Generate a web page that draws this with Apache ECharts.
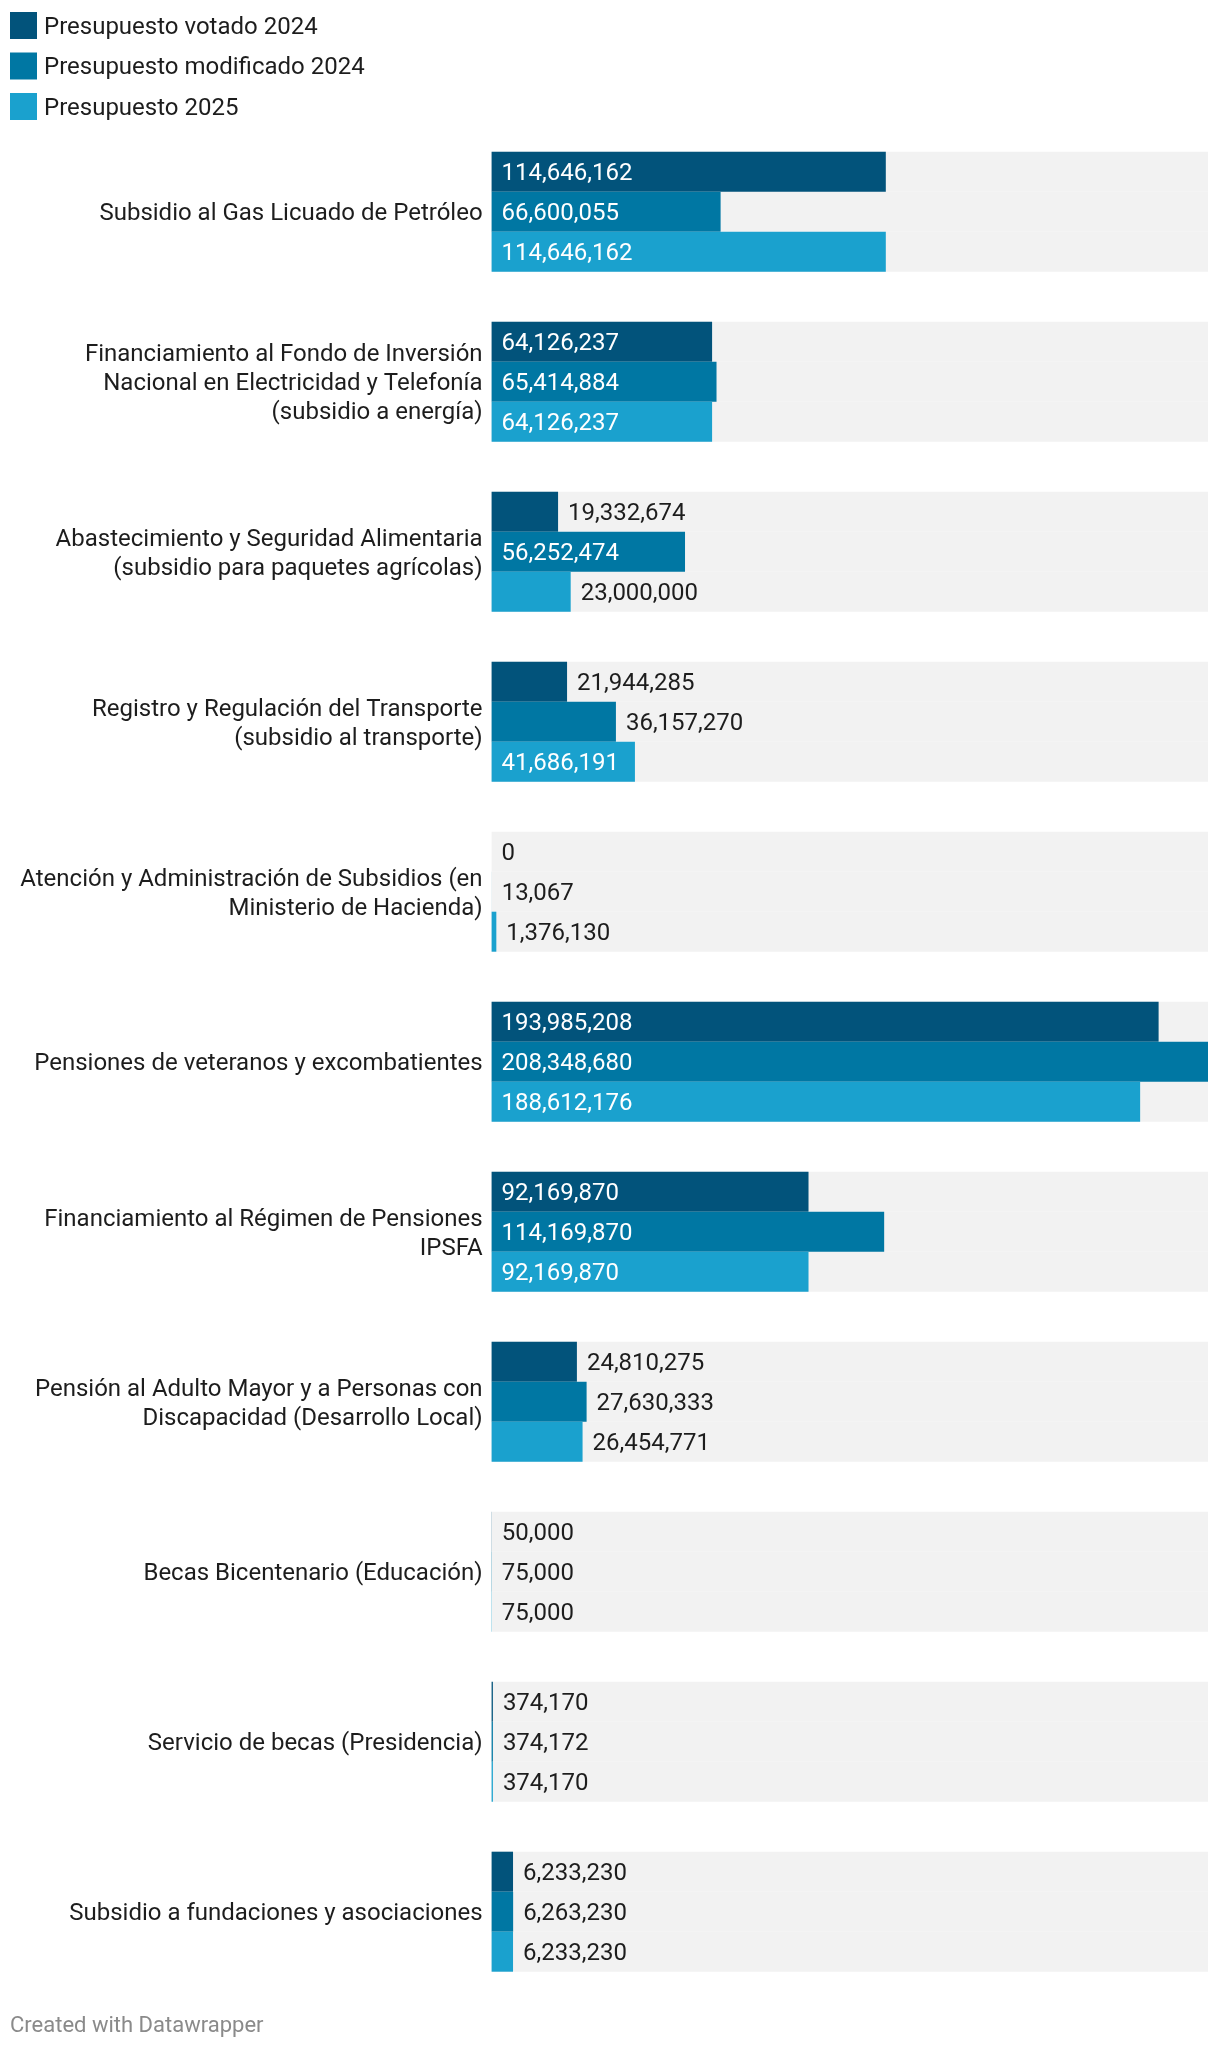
<!DOCTYPE html>
<html><head><meta charset="utf-8">
<script src="https://cdn.jsdelivr.net/npm/echarts@6/dist/echarts.min.js"></script>
<style>html,body{margin:0;padding:0;background:#fff}#c{width:1220px;height:2050px}</style>
</head><body><div id="c"></div>
<script>
const categories = [
  "Subsidio al Gas Licuado de Petróleo",
  "Financiamiento al Fondo de Inversión\nNacional en Electricidad y Telefonía\n(subsidio a energía)",
  "Abastecimiento y Seguridad Alimentaria\n(subsidio para paquetes agrícolas)",
  "Registro y Regulación del Transporte\n(subsidio al transporte)",
  "Atención y Administración de Subsidios (en\nMinisterio de Hacienda)",
  "Pensiones de veteranos y excombatientes",
  "Financiamiento al Régimen de Pensiones\nIPSFA",
  "Pensión al Adulto Mayor y a Personas con\nDiscapacidad (Desarrollo Local)",
  "Becas Bicentenario (Educación)",
  "Servicio de becas (Presidencia)",
  "Subsidio a fundaciones y asociaciones"
];
const seriesNames = ["Presupuesto votado 2024", "Presupuesto modificado 2024", "Presupuesto 2025"];
const votado2024 = [114646162, 64126237, 19332674, 21944285, 0, 193985208, 92169870, 24810275, 50000, 374170, 6233230];
const modificado2024 = [66600055, 65414884, 56252474, 36157270, 13067, 208348680, 114169870, 27630333, 75000, 374172, 6263230];
const presupuesto2025 = [114646162, 64126237, 23000000, 41686191, 1376130, 188612176, 92169870, 26454771, 75000, 374170, 6233230];
const footerText = "Created with Datawrapper";

const colors = ["#02537b", "#0077a3", "#1aa1ce"];
const FONT = "Roboto, 'Noto Sans', sans-serif";
const VAL_SIZE = 24;
const GRID_LEFT = 491.6, GRID_RIGHT = 12, GRID_TOP = 126.7, BAND = 170, TEXT_SHIFT = 2.6;
const allSeries = [votado2024, modificado2024, presupuesto2025];
const maxVal = Math.max(...allSeries.flat());
const plotW = 1220 - GRID_LEFT - GRID_RIGHT;

const ctx = document.createElement('canvas').getContext('2d');
ctx.font = VAL_SIZE + "px Roboto";
const fmt = v => v.toLocaleString('en-US');

function buildData(arr) {
  return arr.map(v => {
    const barPx = v / maxVal * plotW;
    const tw = ctx.measureText(fmt(v)).width;
    const inside = barPx > tw + 20;
    return {
      value: v,
      label: inside
        ? { position: 'insideLeft', distance: 10, color: '#ffffff' }
        : { position: 'right', distance: 10, color: '#1d1d1d' }
    };
  });
}

const chart = echarts.init(document.getElementById('c'), null, { renderer: 'canvas' });
chart.setOption({
  animation: false,
  color: colors,
  textStyle: { fontFamily: FONT },
  legend: {
    orient: 'vertical', left: 10, top: 12, padding: 0,
    itemWidth: 27, itemHeight: 27, itemGap: 13,
    icon: 'rect',
    formatter: name => '{t|' + name + '}',
    textStyle: {
      fontSize: 24, color: '#1d1d1d', fontFamily: FONT,
      rich: { t: { fontSize: 24, color: '#1d1d1d', fontFamily: FONT, padding: [4, 0, 0, 2] } }
    },
    data: seriesNames
  },
  grid: [
    { left: GRID_LEFT, right: GRID_RIGHT, top: GRID_TOP, height: BAND * categories.length, containLabel: false },
    { left: GRID_LEFT, right: GRID_RIGHT, top: GRID_TOP + TEXT_SHIFT, height: BAND * categories.length, containLabel: false }
  ],
  xAxis: [
    { type: 'value', min: 0, max: maxVal, show: false, gridIndex: 0 },
    { type: 'value', min: 0, max: maxVal, show: false, gridIndex: 1 }
  ],
  yAxis: [
    {
      type: 'category', inverse: true, data: categories, gridIndex: 0,
      axisLine: { show: false }, axisTick: { show: false }, splitLine: { show: false },
      axisLabel: { show: false }
    },
    {
      type: 'category', inverse: true, data: categories, gridIndex: 1,
      axisLine: { show: false }, axisTick: { show: false }, splitLine: { show: false },
      axisLabel: { fontSize: 24, color: '#1d1d1d', margin: 9, lineHeight: 29, fontFamily: FONT, align: 'right' }
    }
  ],
  series: allSeries.map((arr, i) => ({
    type: 'bar', name: seriesNames[i], data: buildData(arr),
    xAxisIndex: 0, yAxisIndex: 0,
    barWidth: 40, barGap: '0%',
    showBackground: true, backgroundStyle: { color: '#f2f2f2' },
    label: { show: true, fontSize: VAL_SIZE, fontFamily: FONT, offset: [0, TEXT_SHIFT], formatter: p => fmt(p.value) }
  })),
  graphic: [{
    type: 'text', left: 10, top: 2015,
    style: { text: footerText, fontSize: 22, fill: '#8a8a8a', fontFamily: FONT }
  }]
});
</script></body></html>
